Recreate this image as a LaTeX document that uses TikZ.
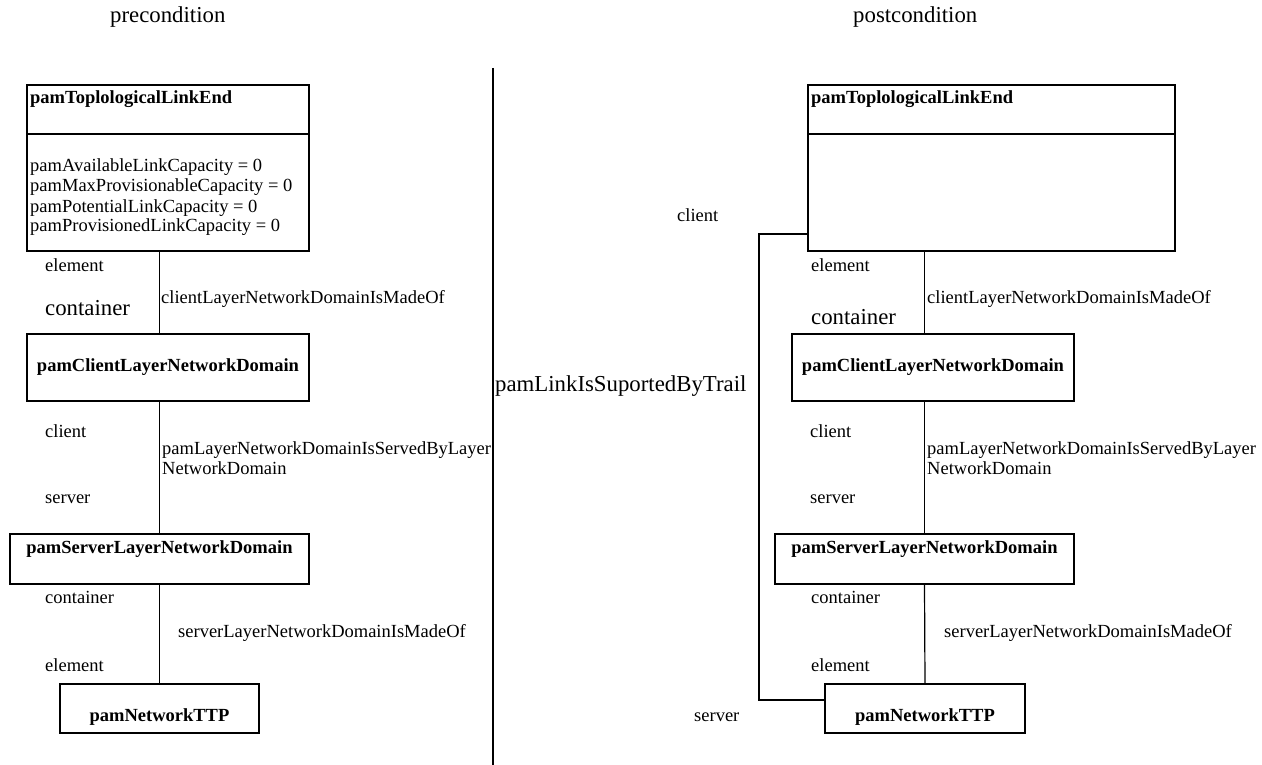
\documentclass[tikz,border=0pt]{standalone}
\usepackage{fontspec}
\setmainfont{Liberation Serif}
\begin{document}
\begin{tikzpicture}[x=1pt,y=-1pt,
  box/.style={draw, line width=1.2pt, inner sep=0pt},
  wire/.style={line width=1.2pt},
  lbl/.style={anchor=base west, inner sep=0pt, font=\fontsize{18.5}{20}\selectfont},
  big/.style={anchor=base west, inner sep=0pt, font=\fontsize{22.8}{26}\selectfont},
  cname/.style={anchor=base, inner sep=0pt, font=\fontsize{18.5}{20}\selectfont\bfseries},
  cnamew/.style={anchor=base west, inner sep=0pt, font=\fontsize{18.5}{20}\selectfont\bfseries}]
\useasboundingbox (0,0) rectangle (1262,765);

% headings and the separator between the two states
\node[big] (pre) at (110,23) {precondition};
\node[big] (post) at (853,23) {postcondition};
\coordinate (sepTop) at (493,68);
\coordinate (sepBot) at (493,765);
\draw[wire] (sepTop) -- (sepBot);
\node[big] (trail) at (495,391) {pamLinkIsSuportedByTrail};

% ---------------- precondition ----------------
\node[box, minimum width=282pt, minimum height=166pt] (tleL) at (168,168) {};
\coordinate (cutL) at (0,134);
\draw[wire] (tleL.west |- cutL) -- (tleL.east |- cutL);
\node[cnamew] (tleLname) at (30,104) {pamToplologicalLinkEnd};
\node[lbl] (attrA) at (30,172) {pamAvailableLinkCapacity = 0};
\node[lbl] (attrB) at (30,192) {pamMaxProvisionableCapacity = 0};
\node[lbl] (attrC) at (30,212) {pamPotentialLinkCapacity = 0};
\node[lbl] (attrD) at (30,232) {pamProvisionedLinkCapacity = 0};

\node[box, minimum width=282pt, minimum height=67pt] (cldL) at (168,367.5) {};
\node[cname] (cldLname) at (168,371) {pamClientLayerNetworkDomain};

\node[box, minimum width=299pt, minimum height=50pt] (srvL) at (159.5,559) {};
\node[cname] (srvLname) at (159.5,553) {pamServerLayerNetworkDomain};

\node[box, minimum width=199pt, minimum height=49pt] (ttpL) at (159.5,708.5) {};
\node[cname] (ttpLname) at (159.5,721) {pamNetworkTTP};

\draw[wire] (tleL.south -| srvL.north) -- (cldL.north -| srvL.north);
\draw[wire] (cldL.south -| srvL.north) -- (srvL.north);
\draw[wire] (srvL.south) -- (ttpL.north);

\node[lbl] (elemL1) at (45,271) {element};
\node[lbl] (madeL1) at (161,303) {clientLayerNetworkDomainIsMadeOf};
\node[big] (contL1) at (45,315) {container};
\node[lbl] (clientL) at (45,437) {client};
\node[lbl] (servedL1) at (162,454) {pamLayerNetworkDomainIsServedByLayer};
\node[lbl] (servedL2) at (162,474) {NetworkDomain};
\node[lbl] (serverL) at (45,503) {server};
\node[lbl] (contL2) at (45,603) {container};
\node[lbl] (madeL2) at (178,637) {serverLayerNetworkDomainIsMadeOf};
\node[lbl] (elemL2) at (45,671) {element};

% ---------------- postcondition ----------------
\node[box, minimum width=367pt, minimum height=166pt] (tleR) at (991.5,168) {};
\coordinate (cutR) at (0,134);
\draw[wire] (tleR.west |- cutR) -- (tleR.east |- cutR);
\node[cnamew] (tleRname) at (811,104) {pamToplologicalLinkEnd};

\node[box, minimum width=282pt, minimum height=67pt] (cldR) at (933,367.5) {};
\node[cname] (cldRname) at (933,371) {pamClientLayerNetworkDomain};

\node[box, minimum width=299pt, minimum height=50pt] (srvR) at (924.5,559) {};
\node[cname] (srvRname) at (924.5,553) {pamServerLayerNetworkDomain};

\node[box, minimum width=200pt, minimum height=49pt] (ttpR) at (925,708.5) {};
\node[cname] (ttpRname) at (925,721) {pamNetworkTTP};

\draw[wire] (tleR.south -| srvR.north) -- (cldR.north -| srvR.north);
\draw[wire] (cldR.south -| srvR.north) -- (srvR.north);
\draw[wire] (srvR.south) -- (ttpR.north);

% trail link from the link end down to the TTP
\coordinate (bendTop) at (759,234);
\coordinate (bendBot) at (759,700);
\draw[wire] (tleR.west |- bendTop) -- (bendTop) -- (bendBot) -- (ttpR.west |- bendBot);
\node[lbl] (clientTop) at (677,222) {client};
\node[lbl] (serverBot) at (694,721) {server};

\node[lbl] (elemR1) at (811,271) {element};
\node[lbl] (madeR1) at (927,303) {clientLayerNetworkDomainIsMadeOf};
\node[big] (contR1) at (811,324) {container};
\node[lbl] (clientR) at (810,437) {client};
\node[lbl] (servedR1) at (927,454) {pamLayerNetworkDomainIsServedByLayer};
\node[lbl] (servedR2) at (927,474) {NetworkDomain};
\node[lbl] (serverR) at (810,503) {server};
\node[lbl] (contR2) at (811,603) {container};
\node[lbl] (madeR2) at (944,637) {serverLayerNetworkDomainIsMadeOf};
\node[lbl] (elemR2) at (811,671) {element};
\end{tikzpicture}
\end{document}
